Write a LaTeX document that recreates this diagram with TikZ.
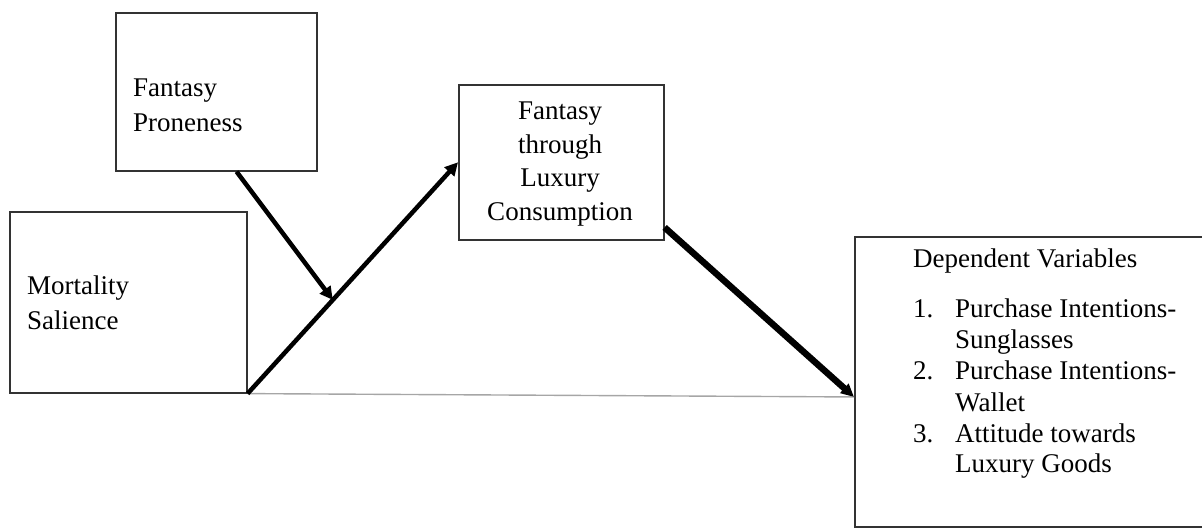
\documentclass[tikz,border=0pt]{standalone}
\usepackage{fontspec}
\setmainfont{Liberation Serif}
\usetikzlibrary{arrows.meta,calc}
\begin{document}
\begin{tikzpicture}[x=1pt,y=-1pt,
  box/.style={draw=black!80, line width=1.6pt, rectangle, inner sep=0pt, anchor=north west},
  lbl/.style={inner sep=0pt, anchor=base west, font=\fontsize{27}{34.5}\selectfont},
  link/.style={line width=4.5pt, -{Triangle[length=13pt,width=13pt]}},
  heavylink/.style={line width=6.5pt, -{Triangle[length=13pt,width=12pt]}},
  direct/.style={line width=1.4pt, draw=black!35},
]
\useasboundingbox (0,0) rectangle (1202,529);

% boxes
\node[box, minimum width=201pt, minimum height=158pt] (fp)  at (115,12)  {};
\node[box, minimum width=237pt, minimum height=181pt] (ms)  at (9,211)   {};
\node[box, minimum width=205pt, minimum height=155pt] (flc) at (458,84)  {};
\node[box, minimum width=386pt, minimum height=290pt] (dv)  at (854,236) {};

% box texts
\node[lbl] (fptext) at (133,97)
  {\begin{tabular}[t]{@{}l@{}}Fantasy\\Proneness\end{tabular}};
\node[lbl] (mstext) at (27,295)
  {\begin{tabular}[t]{@{}l@{}}Mortality\\Salience\end{tabular}};
\node[lbl, anchor=base, font=\fontsize{27}{33.5}\selectfont] (flctext) at (560,120)
  {\begin{tabular}[t]{@{}c@{}}Fantasy\\through\\Luxury\\Consumption\end{tabular}};
\node[lbl] (dvhead) at (913,268) {Dependent Variables};
\node[lbl, font=\fontsize{27}{31}\selectfont] (dvlist) at (913,318)
  {\begin{tabular}[t]{@{}p{42pt}@{}l@{}}
   1. & Purchase Intentions-\\
      & Sunglasses\\
   2. & Purchase Intentions-\\
      & Wallet\\
   3. & Attitude towards\\
      & Luxury Goods
   \end{tabular}};

% connectors
\coordinate (mid)  at ($(ms.south east)!0.405!(flc.west)$);
\coordinate (dvin) at ($(dv.north west)!0.552!(dv.south west)$);
\draw[direct] (ms.south east) -- (dvin);
\draw[link] (ms.south east) -- (flc.west);
\draw[link] ($(fp.south west)!0.6!(fp.south east)$) -- (mid);
\draw[heavylink] ($(flc.north east)!0.916!(flc.south east)$) -- (dvin);
\end{tikzpicture}
\end{document}
